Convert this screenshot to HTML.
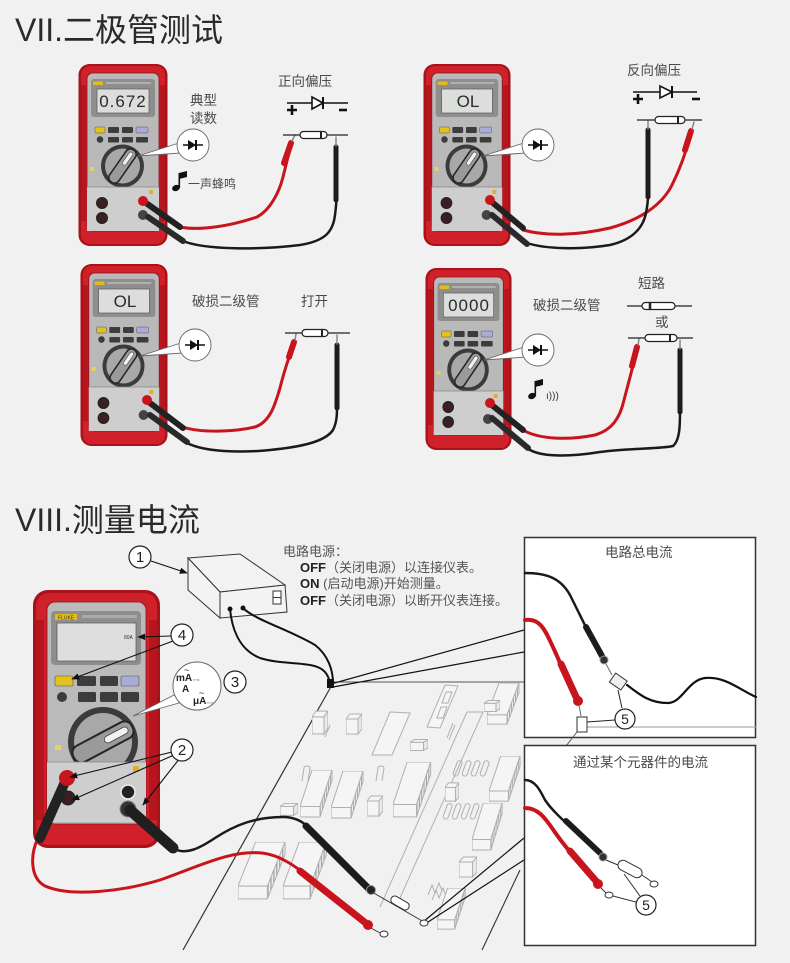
<!DOCTYPE html>
<html><head><meta charset="utf-8"><style>
html,body{margin:0;padding:0;background:#f1f1f1;}
svg{display:block;}
text{font-family:"Liberation Sans","Noto Sans CJK SC",sans-serif;}
</style></head><body>
<svg width="790" height="963" viewBox="0 0 790 963" xmlns="http://www.w3.org/2000/svg">
<defs>
<pattern id="hatch" width="2" height="3" patternUnits="userSpaceOnUse"><rect width="2" height="3" fill="#ececec"/><rect x="0" width="0.8" height="3" fill="#9c9c9c"/></pattern>
<marker id="arr" viewBox="0 0 10 10" refX="9" refY="5" markerWidth="8" markerHeight="8" orient="auto" markerUnits="userSpaceOnUse"><path d="M0,1 L10,5 L0,9 z" fill="#111"/></marker>
<symbol id="meter" viewBox="0 0 90 184" preserveAspectRatio="none">
<rect x="0.5" y="1" width="89" height="182" rx="11" fill="#a8121a"/>
<rect x="3" y="3" width="84" height="178" rx="9" fill="#d0212a"/>
<rect x="3" y="22" width="5" height="136" fill="#b5161e"/>
<rect x="82" y="22" width="5" height="136" fill="#b5161e"/>
<rect x="9" y="10" width="72" height="158" rx="6" fill="#b9b9b9" stroke="#8a1014" stroke-width="0.8"/>
<rect x="13" y="16" width="64" height="38" rx="3" fill="#8e8e8e"/>
<rect x="15" y="18.5" width="10" height="3.5" fill="#e2bb1c"/>
<rect x="28" y="19" width="45" height="2" fill="#b0b0b0"/>
<rect x="19" y="26" width="52" height="24" fill="#dcdedc" stroke="#5a5a5a" stroke-width="0.7"/>
<rect x="17" y="64" width="10" height="6" rx="1" fill="#e4c21e" stroke="#555" stroke-width="0.5"/>
<rect x="30" y="64" width="11" height="6" rx="1" fill="#3c3c3c"/>
<rect x="44" y="64" width="11" height="6" rx="1" fill="#3c3c3c"/>
<rect x="58" y="64" width="12" height="6" rx="1" fill="#a9abd8" stroke="#555" stroke-width="0.5"/>
<circle cx="22" cy="76.5" r="3.3" fill="#3c3c3c"/>
<rect x="30" y="74" width="11" height="5.5" rx="1" fill="#3c3c3c"/>
<rect x="44" y="74" width="11" height="5.5" rx="1" fill="#3c3c3c"/>
<rect x="58" y="74" width="12" height="5.5" rx="1" fill="#3c3c3c"/>
<circle cx="44.5" cy="103" r="21.5" fill="#3b3b3b"/>
<circle cx="44.5" cy="103" r="17.5" fill="#a8a8a8"/>
<g transform="rotate(-55 44.5 103)"><rect x="25" y="97.5" width="39" height="11" rx="5" fill="#9a9a9a" stroke="#262626" stroke-width="1.6"/><rect x="46" y="101" width="15" height="4" rx="2" fill="#f2f2f2" stroke="#333" stroke-width="0.5"/></g>
<rect x="12" y="104" width="4" height="4" fill="#e8d060"/>
<rect x="9" y="124" width="72" height="44" fill="#cecece"/>
<path d="M9,124 H81" stroke="#888" stroke-width="0.8"/>
<circle cx="24" cy="140" r="5.5" fill="#3a2020" stroke="#222" stroke-width="1"/>
<circle cx="24" cy="155" r="5.5" fill="#3a2020" stroke="#222" stroke-width="1"/>
<circle cx="65" cy="152" r="5" fill="#444"/>
<rect x="71" y="127" width="4" height="4" fill="#e0b020"/>
</symbol>
<symbol id="chip" viewBox="0 0 34 50" preserveAspectRatio="none">
<polygon points="12,0 32,0 20,38 0,38" fill="#f5f5f5" stroke="#b0b0b0" stroke-width="1" vector-effect="non-scaling-stroke"/>
<polygon points="0,38 20,38 20,49 0,49" fill="#f5f5f5" stroke="#b0b0b0" stroke-width="1" vector-effect="non-scaling-stroke"/>
<polygon points="32,0 20,38 20,49 32,11" fill="url(#hatch)" stroke="#b0b0b0" stroke-width="1" vector-effect="non-scaling-stroke"/>
</symbol>
<symbol id="cube" viewBox="0 0 16 22" preserveAspectRatio="none">
<polygon points="0,6 12,6 12,21 0,21" fill="#f5f5f5" stroke="#b0b0b0" vector-effect="non-scaling-stroke"/>
<polygon points="0,6 4,1 16,1 12,6" fill="#f5f5f5" stroke="#b0b0b0" vector-effect="non-scaling-stroke"/>
<polygon points="12,6 16,1 16,16 12,21" fill="#e8e8e8" stroke="#b0b0b0" vector-effect="non-scaling-stroke"/>
</symbol>
</defs>

<rect width="790" height="963" fill="#f1f1f1"/>

<!-- Titles -->
<text x="15" y="41" font-size="32" fill="#2a2a2a">VII.二极管测试</text>
<text x="15" y="531" font-size="32" fill="#2a2a2a">VIII.测量电流</text>

<!-- ===== Panel leads (behind meters) ===== -->
<g fill="none" stroke-linecap="round">
<path d="M180,227 C200,231 230,226 257,217 C270,210 279,193 283,177 C286,165 288,156 290,150" stroke="#c8141c" stroke-width="3"/>
<path d="M183,241 C205,250 260,250 300,245 C325,241 333,232 335,215 C337,200 337,190 337,185" stroke="#1a1a1a" stroke-width="2.5"/>
<path d="M523,230 C545,236 575,236 610,228 C640,220 662,205 672,185 C682,165 686,150 689,140" stroke="#c8141c" stroke-width="3"/>
<path d="M527,243 C545,249 580,250 610,245 C632,240 643,228 646,213 C648,203 648,198 648,195" stroke="#1a1a1a" stroke-width="2.5"/>
<path d="M183,427 C200,433 235,432 255,427 C270,422 275,405 280,388 C284,372 288,360 291,352" stroke="#c8141c" stroke-width="3"/>
<path d="M187,443 C205,452 240,453 270,450 C300,447 325,442 333,430 C337,422 337,414 337,407" stroke="#1a1a1a" stroke-width="2.5"/>
<path d="M523,430 C540,440 570,440 595,435 C612,430 620,418 624,400 C628,385 632,370 634,362" stroke="#c8141c" stroke-width="3"/>
<path d="M530,450 C545,458 575,456 600,452 C630,448 660,449 673,446 C680,440 680,425 680,410" stroke="#1a1a1a" stroke-width="2.5"/>
</g>

<!-- Meters -->
<use href="#meter" x="78" y="63" width="90" height="184"/>
<use href="#meter" x="423" y="63" width="88" height="184"/>
<use href="#meter" x="80" y="263" width="88" height="184"/>
<use href="#meter" x="425" y="267" width="87" height="184"/>

<g font-size="17" fill="#2a2a2a" text-anchor="middle">
<text x="123" y="107" letter-spacing="1">0.672</text>
<text x="468" y="107">OL</text>
<text x="125" y="307">OL</text>
<text x="469" y="311" letter-spacing="1">0000</text>
</g>

<g stroke-linecap="round">
<line x1="146" y1="203" x2="180" y2="227" stroke="#222" stroke-width="6"/>
<circle cx="143" cy="201" r="5" fill="#c8141c"/>
<line x1="148" y1="217" x2="183" y2="241" stroke="#2a2a2a" stroke-width="6"/>
<line x1="493" y1="203" x2="523" y2="228" stroke="#222" stroke-width="6"/>
<circle cx="490" cy="200" r="5" fill="#c8141c"/>
<line x1="492" y1="215" x2="527" y2="244" stroke="#2a2a2a" stroke-width="6"/>
<line x1="150" y1="403" x2="183" y2="428" stroke="#222" stroke-width="6"/>
<circle cx="147" cy="400" r="5" fill="#c8141c"/>
<line x1="150" y1="415" x2="187" y2="442" stroke="#2a2a2a" stroke-width="6"/>
<line x1="493" y1="406" x2="523" y2="430" stroke="#222" stroke-width="6"/>
<circle cx="490" cy="403" r="5" fill="#c8141c"/>
<line x1="492" y1="418" x2="528" y2="448" stroke="#2a2a2a" stroke-width="6"/>
</g>

<g stroke-linecap="round">
<line x1="284" y1="163" x2="291" y2="143" stroke="#c8141c" stroke-width="6"/>
<line x1="292" y1="141" x2="295" y2="135" stroke="#888" stroke-width="1.5"/>
<line x1="336" y1="200" x2="336" y2="147" stroke="#1c1c1c" stroke-width="5"/>
<line x1="336" y1="146" x2="336" y2="137" stroke="#888" stroke-width="1.5"/>
<line x1="685" y1="150" x2="691" y2="131" stroke="#c8141c" stroke-width="6"/>
<line x1="692" y1="129" x2="694" y2="122" stroke="#888" stroke-width="1.5"/>
<line x1="648" y1="197" x2="648" y2="130" stroke="#1c1c1c" stroke-width="5"/>
<line x1="648" y1="129" x2="648" y2="121" stroke="#888" stroke-width="1.5"/>
<line x1="289" y1="357" x2="294" y2="342" stroke="#c8141c" stroke-width="6"/>
<line x1="295" y1="340" x2="296" y2="334" stroke="#888" stroke-width="1.5"/>
<line x1="337" y1="408" x2="337" y2="345" stroke="#1c1c1c" stroke-width="5"/>
<line x1="337" y1="344" x2="337" y2="335" stroke="#888" stroke-width="1.5"/>
<line x1="632" y1="366" x2="637" y2="347" stroke="#c8141c" stroke-width="6"/>
<line x1="638" y1="345" x2="639" y2="339" stroke="#888" stroke-width="1.5"/>
<line x1="680" y1="412" x2="680" y2="350" stroke="#1c1c1c" stroke-width="5"/>
<line x1="680" y1="349" x2="680" y2="340" stroke="#888" stroke-width="1.5"/>
</g>

<g stroke="#666" stroke-width="0.9" fill="#fff">
<polygon points="179,143 138,156 181,153"/><circle cx="193" cy="145" r="16"/>
<polygon points="524,143 483,156 526,153"/><circle cx="538" cy="145" r="16"/>
<polygon points="181,343 140,356 183,353"/><circle cx="195" cy="345" r="16"/>
<polygon points="524,347 484,360 526,357"/><circle cx="538" cy="350" r="16"/>
</g>
<g fill="#111">
<g transform="translate(193,145)"><path d="M-10,0 H10" stroke="#111" stroke-width="1.6"/><path d="M-5,-5 L3,0 L-5,5 Z"/><path d="M3,-5 V5" stroke="#111" stroke-width="2"/></g>
<g transform="translate(538,145)"><path d="M-10,0 H10" stroke="#111" stroke-width="1.6"/><path d="M-5,-5 L3,0 L-5,5 Z"/><path d="M3,-5 V5" stroke="#111" stroke-width="2"/></g>
<g transform="translate(195,345)"><path d="M-10,0 H10" stroke="#111" stroke-width="1.6"/><path d="M-5,-5 L3,0 L-5,5 Z"/><path d="M3,-5 V5" stroke="#111" stroke-width="2"/></g>
<g transform="translate(538,350)"><path d="M-10,0 H10" stroke="#111" stroke-width="1.6"/><path d="M-5,-5 L3,0 L-5,5 Z"/><path d="M3,-5 V5" stroke="#111" stroke-width="2"/></g>
</g>

<g stroke="#111" fill="none">
<path d="M287,103 H348" stroke-width="1.6"/>
<polygon points="312,97 312,109 323,103" fill="#fff" stroke-width="1.6"/>
<path d="M323,97 V109" stroke-width="2"/>
<path d="M287,110 H297 M292,105 V115" stroke-width="2.6"/>
<path d="M339,110 H347" stroke-width="2.6"/>
<path d="M633,92 H697" stroke-width="1.6"/>
<polygon points="660,86 660,98 672,92" fill="#fff" stroke-width="1.6"/>
<path d="M672,86 V98" stroke-width="2"/>
<path d="M633,99 H643 M638,94 V104" stroke-width="2.6"/>
<path d="M692,99 H700" stroke-width="2.6"/>
</g>

<g stroke="#222" stroke-width="1.2">
<path d="M283,135 H348"/><rect x="300" y="131.5" width="27" height="7" rx="3.5" fill="#fff"/><path d="M321,131.5 V138.5" stroke-width="2"/>
<path d="M637,120 H702"/><rect x="655" y="116.5" width="30" height="7" rx="3.5" fill="#fff"/><path d="M678,116.5 V123.5" stroke-width="2"/>
<path d="M285,333 H350"/><rect x="302" y="329.5" width="26" height="7" rx="3.5" fill="#fff"/><path d="M322,329.5 V336.5" stroke-width="2"/>
<path d="M627,306 H692"/><rect x="642" y="302.5" width="33" height="7" rx="3.5" fill="#fff"/><path d="M650,302.5 V309.5" stroke-width="2.5"/>
<path d="M628,338 H693"/><rect x="645" y="334.5" width="32" height="7" rx="3.5" fill="#fff"/><path d="M670,334.5 V341.5" stroke-width="2"/>
</g>

<g fill="#111">
<ellipse cx="176" cy="188" rx="4" ry="3" transform="rotate(-20 176 188)"/>
<rect x="178.5" y="173" width="1.6" height="15"/>
<polygon points="179,173 187,171 187,177 179,179"/>
<ellipse cx="532" cy="396" rx="4" ry="3" transform="rotate(-20 532 396)"/>
<rect x="534.5" y="381" width="1.6" height="15"/>
<polygon points="535,381 543,379 543,385 535,387"/>
</g>
<text x="546" y="399" font-size="10" fill="#333">ı)))</text>

<g font-size="13.5" fill="#4a4a4a">
<text x="190" y="105">典型</text>
<text x="190" y="123">读数</text>
<text x="278" y="86">正向偏压</text>
<text x="188" y="188" font-size="12">一声蜂鸣</text>
<text x="627" y="75">反向偏压</text>
<text x="192" y="306">破损二级管</text>
<text x="301" y="306">打开</text>
<text x="533" y="310">破损二级管</text>
<text x="638" y="288">短路</text>
<text x="655" y="327">或</text>
</g>

<!-- circuit board -->
<g stroke="#b0b0b0" fill="none" stroke-width="1">
<path d="M333,682 H524" stroke="#555"/>
<path d="M333,683 L183,950" stroke="#333" stroke-width="1.2"/>
<path d="M467,712 L380,907 M483,712 L396,907 M467,712 H483"/>
<path d="M520,870 L482,950" stroke="#333" stroke-width="1.1"/>
<polygon points="445,685 458,686 440,728 427,727" fill="#f5f5f5"/>
<polygon points="446,692 452,692 448,703 442,703"/>
<polygon points="441,707 447,707 443,718 437,718"/>
<polygon points="390,712 410,713 392,755 372,755" fill="#f5f5f5"/>
<path d="M302,781 L304,768 a3,2 0 0 1 6,0 L308,781"/>
<path d="M376,781 L378,768 a3,2 0 0 1 6,0 L382,781"/>
<path d="M455,725 l-6,15 m4,-17 l-6,15"/>
<path d="M330,725 l-5,12 m3,-14 l-5,12"/>
<g transform="translate(458,760)"><rect x="0" y="0" width="5" height="16" rx="2.5" transform="rotate(20)"/><rect x="9" y="0" width="5" height="16" rx="2.5" transform="rotate(20 9 0)"/><rect x="18" y="0" width="5" height="16" rx="2.5" transform="rotate(20 18 0)"/><rect x="27" y="0" width="5" height="16" rx="2.5" transform="rotate(20 27 0)"/></g>
<g transform="translate(448,803)"><rect x="0" y="0" width="5" height="16" rx="2.5" transform="rotate(20)"/><rect x="9" y="0" width="5" height="16" rx="2.5" transform="rotate(20 9 0)"/><rect x="18" y="0" width="5" height="16" rx="2.5" transform="rotate(20 18 0)"/><rect x="27" y="0" width="5" height="16" rx="2.5" transform="rotate(20 27 0)"/></g>
<path d="M428,895 l4,-10 l3,8 l4,-10 l3,8 M432,900 l4,-10 l3,8 l4,-10 l3,8"/>
<path d="M500,705 l-5,12 m10,-10 l-5,12"/>
</g>
<use href="#chip" x="300" y="770" width="34" height="48"/>
<use href="#chip" x="331" y="771" width="34" height="48"/>
<use href="#chip" x="393" y="762" width="40" height="56"/>
<use href="#chip" x="238" y="842" width="50" height="58"/>
<use href="#chip" x="283" y="842" width="46" height="58"/>
<use href="#chip" x="487" y="683" width="34" height="42"/>
<use href="#chip" x="489" y="756" width="33" height="46"/>
<use href="#chip" x="472" y="803" width="32" height="48"/>
<use href="#chip" x="437" y="888" width="30" height="42"/>
<use href="#cube" x="312" y="710" width="16" height="25"/>
<use href="#cube" x="346" y="713" width="16" height="22"/>
<use href="#cube" x="367" y="795" width="16" height="22"/>
<use href="#cube" x="280" y="803" width="18" height="13"/>
<use href="#cube" x="410" y="739" width="18" height="12"/>
<use href="#cube" x="445" y="782" width="14" height="20"/>
<use href="#cube" x="459" y="856" width="18" height="22"/>
<use href="#cube" x="484" y="700" width="16" height="12"/>

<!-- power supply box -->
<g stroke="#333" stroke-width="1" fill="#f3f3f3">
<polygon points="188,558 240,554 285,585 220,592"/>
<polygon points="188,558 220,592 220,618 188,590"/>
<polygon points="220,592 285,585 287,612 220,618"/>
<rect x="273" y="591" width="8" height="13" fill="#fff"/>
<path d="M273,597.5 H281" fill="none"/>
</g>
<circle cx="230" cy="609" r="2.5" fill="#111"/>
<circle cx="243" cy="608" r="2.5" fill="#111"/>
<g fill="none" stroke="#111" stroke-width="2">
<path d="M230,609 C232,630 240,650 260,658 C285,666 315,660 325,672 C330,678 330,684 330,688"/>
<path d="M243,608 C255,620 290,630 315,645 C328,655 333,670 333,683"/>
</g>
<rect x="327" y="679" width="7" height="9" fill="#111"/>

<g stroke="#111" stroke-width="1.2">
<line x1="331" y1="684" x2="524" y2="630"/>
<line x1="333" y1="687" x2="524" y2="652"/>
<line x1="423" y1="922" x2="524" y2="838"/>
<line x1="425" y1="924" x2="524" y2="860"/>
</g>

<!-- big meter -->
<rect x="33" y="590" width="127" height="258" rx="15" fill="#a8121a"/>
<rect x="36" y="593" width="121" height="252" rx="13" fill="#d0212a"/>
<rect x="36" y="620" width="8" height="200" fill="#b5161e"/>
<rect x="149" y="620" width="8" height="200" fill="#b5161e"/>
<rect x="47" y="602" width="99" height="222" rx="8" fill="#bababa" stroke="#8a1014" stroke-width="0.8"/>
<rect x="51" y="611" width="90" height="54" rx="4" fill="#8e8e8e"/>
<rect x="55" y="614" width="22" height="6" fill="#e2bb1c"/>
<text x="58" y="619.5" font-size="5" fill="#333">FLUKE</text>
<rect x="82" y="615" width="55" height="3" fill="#aaa"/>
<rect x="57" y="623" width="79" height="38" fill="#dedede" stroke="#555" stroke-width="0.7"/>
<text x="124" y="639" font-size="5" fill="#333">80A</text>
<rect x="55" y="676" width="18" height="10" rx="1.5" fill="#e4c21e" stroke="#555" stroke-width="0.6"/>
<rect x="77" y="676" width="19" height="10" rx="1.5" fill="#3c3c3c"/>
<rect x="100" y="676" width="18" height="10" rx="1.5" fill="#3c3c3c"/>
<rect x="121" y="676" width="18" height="10" rx="1.5" fill="#a9abd8" stroke="#555" stroke-width="0.6"/>
<circle cx="62" cy="697" r="5" fill="#3c3c3c"/>
<rect x="78" y="692" width="18" height="10" rx="1.5" fill="#3c3c3c"/>
<rect x="100" y="692" width="18" height="10" rx="1.5" fill="#3c3c3c"/>
<rect x="121" y="692" width="18" height="10" rx="1.5" fill="#3c3c3c"/>
<circle cx="103" cy="742" r="35" fill="#3b3b3b"/>
<circle cx="103" cy="742" r="29" fill="#a8a8a8"/>
<g transform="rotate(-28 103 742)"><rect x="70" y="733" width="66" height="18" rx="8" fill="#9a9a9a" stroke="#262626" stroke-width="2"/><rect x="105" y="738.5" width="26" height="7" rx="3.5" fill="#f2f2f2" stroke="#333" stroke-width="0.7"/></g>
<rect x="55" y="745" width="6" height="5" fill="#e8d060"/>
<rect x="47" y="762" width="99" height="60" fill="#cecece"/>
<path d="M47,762 H146" stroke="#888" stroke-width="0.8"/>
<circle cx="68" cy="798" r="7" fill="#3a2020" stroke="#222" stroke-width="1"/>
<circle cx="128" cy="792" r="7" fill="#222" stroke="#eee" stroke-width="1.5"/>
<circle cx="128" cy="809" r="8" fill="#333" stroke="#888" stroke-width="1"/>
<rect x="133" y="766" width="6" height="6" fill="#e0b020"/>

<g fill="none" stroke-linecap="round">
<path d="M38,838 C30,855 30,878 45,886 C70,897 120,892 160,880 C200,866 230,850 262,853 C280,855 295,866 310,878" stroke="#c8141c" stroke-width="3"/>
<path d="M173,848 C185,856 200,848 215,838 C235,825 255,817 283,817 C295,817 303,822 308,827" stroke="#1a1a1a" stroke-width="2.5"/>
<line x1="65" y1="782" x2="40" y2="838" stroke="#222" stroke-width="10"/>
<line x1="130" y1="810" x2="173" y2="848" stroke="#1f1f1f" stroke-width="11"/>
<line x1="300" y1="871" x2="367" y2="924" stroke="#c8141c" stroke-width="7"/>
<line x1="306" y1="826" x2="368" y2="888" stroke="#1c1c1c" stroke-width="7"/>
</g>
<circle cx="67" cy="778" r="8" fill="#c8141c"/>
<circle cx="368" cy="925" r="5" fill="#c8141c"/>
<circle cx="371" cy="890" r="4.5" fill="#222" stroke="#999" stroke-width="1"/>
<g stroke="#333" stroke-width="1" fill="#fff">
<line x1="372" y1="892" x2="424" y2="922"/>
<rect x="390" y="899" width="20" height="8" rx="4" transform="rotate(30 400 903)"/>
<ellipse cx="424" cy="923" rx="4" ry="3"/>
<line x1="371" y1="928" x2="380" y2="933"/>
<ellipse cx="384" cy="934" rx="4" ry="3"/>
</g>

<polygon points="176,694 133,716 179,703" fill="#fff" stroke="#666" stroke-width="0.9"/>
<circle cx="197" cy="686" r="24" fill="#fff" stroke="#666" stroke-width="1"/>
<g fill="#222" font-weight="bold" font-size="10">
<text x="176" y="681">mA</text>
<text x="182" y="692">A</text>
<text x="193" y="704">μA</text>
</g>
<g fill="#222" font-size="9">
<text x="184" y="673">~</text>
<text x="199" y="696">~</text>
</g>
<g fill="#888" font-size="4"><text x="193" y="681">rms</text><text x="207" y="704">rms</text></g>

<g stroke="#111" stroke-width="1.1" fill="none" marker-end="url(#arr)">
<line x1="151" y1="561" x2="187" y2="573"/>
<line x1="171" y1="636" x2="138" y2="637"/>
<line x1="173" y1="641" x2="72" y2="679"/>
<line x1="172" y1="752" x2="70" y2="777"/>
<line x1="174" y1="755" x2="72" y2="800"/>
<line x1="180" y1="758" x2="143" y2="805"/>
</g>
<g fill="#fff" stroke="#222" stroke-width="1.2">
<circle cx="140" cy="557" r="11"/>
<circle cx="182" cy="635" r="11"/>
<circle cx="235" cy="682" r="11"/>
<circle cx="182" cy="750" r="11"/>
</g>
<g font-size="15" fill="#222" text-anchor="middle">
<text x="140" y="562">1</text>
<text x="182" y="640">4</text>
<text x="235" y="687">3</text>
<text x="182" y="755">2</text>
</g>

<g font-size="13" fill="#555">
<text x="283" y="556">电路电源：</text>
<text x="300" y="572"><tspan font-weight="bold" fill="#222">OFF</tspan>（关闭电源）以连接仪表。</text>
<text x="300" y="588"><tspan font-weight="bold" fill="#222">ON</tspan> (启动电源)开始测量。</text>
<text x="300" y="605"><tspan font-weight="bold" fill="#222">OFF</tspan>（关闭电源）以断开仪表连接。</text>
</g>

<!-- Box 1 -->
<rect x="524.5" y="537.5" width="231" height="200" fill="#fff" stroke="#333" stroke-width="1.5"/>
<text x="605" y="557" font-size="13.5" fill="#4a4a4a">电路总电流</text>
<g fill="none" stroke-linecap="round">
<path d="M525,573 C545,573 560,577 570,595 C580,615 592,640 600,655" stroke="#1a1a1a" stroke-width="2.5"/>
<line x1="586" y1="627" x2="602" y2="656" stroke="#1c1c1c" stroke-width="6"/>
<path d="M627,685 C640,695 650,703 668,703 C682,703 688,680 705,678 C725,676 740,690 756,697" stroke="#111" stroke-width="2.2"/>
<path d="M525,620 C540,618 545,630 552,645 C560,662 568,682 576,698" stroke="#c8141c" stroke-width="4"/>
<line x1="561" y1="664" x2="577" y2="699" stroke="#c8141c" stroke-width="7"/>
</g>
<circle cx="604" cy="660" r="4" fill="#333" stroke="#999" stroke-width="1"/>
<line x1="606" y1="664" x2="612" y2="675" stroke="#666" stroke-width="1"/>
<g transform="translate(618,682) rotate(35)"><rect x="-7" y="-6" width="14" height="11" fill="#eee" stroke="#333"/></g>
<circle cx="578" cy="701" r="5" fill="#c8141c"/>
<line x1="579" y1="705" x2="581" y2="716" stroke="#666" stroke-width="1"/>
<path d="M587,727 H756" stroke="#999" stroke-width="1"/>
<rect x="577" y="717" width="10" height="15" fill="#fff" stroke="#333"/>
<path d="M577,732 L566,746" stroke="#555" stroke-width="1"/>
<g stroke="#222" stroke-width="1"><line x1="587" y1="722" x2="615" y2="720"/><line x1="618" y1="690" x2="622" y2="708"/></g>
<circle cx="625" cy="719" r="10" fill="#fff" stroke="#222" stroke-width="1.2"/>
<text x="625" y="724" font-size="14" text-anchor="middle" fill="#222">5</text>

<!-- Box 2 -->
<rect x="524.5" y="745.5" width="231" height="200" fill="#fff" stroke="#333" stroke-width="1.5"/>
<text x="573" y="767" font-size="13.5" fill="#4a4a4a">通过某个元器件的电流</text>
<g fill="none" stroke-linecap="round">
<path d="M525,780 C535,780 540,790 545,800 C555,815 575,830 598,852" stroke="#1a1a1a" stroke-width="2.5"/>
<line x1="566" y1="821" x2="600" y2="853" stroke="#1c1c1c" stroke-width="6"/>
<path d="M525,808 C538,808 545,818 552,828 C562,843 578,862 596,881" stroke="#c8141c" stroke-width="4"/>
<line x1="570" y1="851" x2="596" y2="881" stroke="#c8141c" stroke-width="7"/>
</g>
<circle cx="603" cy="857" r="4" fill="#333" stroke="#999" stroke-width="1"/>
<circle cx="598" cy="884" r="5" fill="#c8141c"/>
<g stroke="#333" stroke-width="1" fill="#fff">
<line x1="606" y1="860" x2="618" y2="865"/>
<line x1="642" y1="875" x2="652" y2="882"/>
<g transform="translate(630,869) rotate(28)"><rect x="-13" y="-5" width="26" height="10" rx="5"/></g>
<ellipse cx="654" cy="884" rx="4" ry="3"/>
<line x1="601" y1="888" x2="606" y2="893"/>
<ellipse cx="609" cy="895" rx="4" ry="3"/>
<line x1="636" y1="902" x2="613" y2="896"/>
<line x1="640" y1="896" x2="624" y2="874"/>
</g>
<circle cx="646" cy="905" r="10" fill="#fff" stroke="#222" stroke-width="1.2"/>
<text x="646" y="910" font-size="14" text-anchor="middle" fill="#222">5</text>
</svg>
</body></html>
